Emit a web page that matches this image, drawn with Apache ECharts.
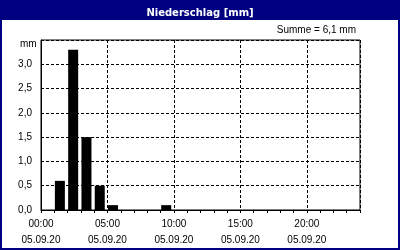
<!DOCTYPE html>
<html><head><meta charset="utf-8">
<script src="https://cdn.jsdelivr.net/npm/echarts@6/dist/echarts.min.js"></script>
<style>html,body{margin:0;padding:0;background:#fff}#c{width:400px;height:250px}</style>
</head><body><div id="c"></div>
<script>
// Data
const hourStarts = [1, 2, 3, 4, 5, 9];           // hour interval start (h .. h+1)
const precipMm   = [0.6, 3.3, 1.5, 0.5, 0.1, 0.1];
const xTickHours = [0, 5, 10, 15, 20];
const xTickTimes = ['00:00', '05:00', '10:00', '15:00', '20:00'];
const xTickDate  = '05.09.20';
const yTicks     = [0, 0.5, 1.0, 1.5, 2.0, 2.5, 3.0];
const titleText  = 'Niederschlag [mm]';
const sumText    = 'Summe = 6,1 mm';
const unitText   = 'mm';

const FONT = 'Liberation Sans';
const chart = echarts.init(document.getElementById('c'), null, {renderer: 'canvas'});
const barData = hourStarts.map((h, i) => [h + 0.42, precipMm[i]]);

chart.setOption({
  animation: false,
  backgroundColor: '#ffffff',
  textStyle: {fontFamily: FONT},
  graphic: [
    {type: 'rect', shape: {x: 0, y: 0, width: 400, height: 20}, style: {fill: '#000080'}, z: 0},
    {type: 'rect', shape: {x: 1, y: 1, width: 398, height: 248}, style: {fill: null, stroke: '#000080', lineWidth: 2}, z: 0},
    {type: 'text', left: 20, top: 39, style: {text: unitText, fill: '#000', font: '10px ' + FONT}},
    {type: 'text', right: 44, top: 25, style: {text: sumText, fill: '#000', font: '10px ' + FONT}}
  ],
  title: {
    text: titleText, left: 'center', top: 3,
    textStyle: {color: '#fff', fontSize: 10, fontWeight: 'bold', fontFamily: 'DejaVu Sans'}
  },
  grid: {left: 41, top: 40, width: 319, height: 170, show: true, borderColor: '#000', borderWidth: 1, backgroundColor: 'transparent'},
  xAxis: [
    {
      type: 'value', min: 0, max: 24, interval: 1, position: 'bottom',
      axisLine: {show: true, lineStyle: {color: '#000', width: 1}},
      axisTick: {show: true, length: 3, lineStyle: {color: '#000'}},
      axisLabel: {show: false}, splitLine: {show: false}
    },
    {
      type: 'value', min: 0, max: 24, interval: 5, position: 'bottom',
      axisLine: {show: false}, axisTick: {show: false},
      axisLabel: {
        show: true, color: '#000', fontSize: 10, fontFamily: FONT, lineHeight: 16, margin: 6,
        formatter: v => { const i = xTickHours.indexOf(v); return i < 0 ? '' : xTickTimes[i] + '\n' + xTickDate; }
      },
      splitLine: {show: true, lineStyle: {color: '#000', type: [3, 2], width: 1}}
    }
  ],
  yAxis: {
    type: 'value', min: 0, max: 3.5, interval: 0.5,
    axisLine: {show: true, lineStyle: {color: '#000'}},
    axisTick: {show: false},
    axisLabel: {
      color: '#000', fontSize: 10, fontFamily: FONT, margin: 9,
      formatter: v => yTicks.some(t => Math.abs(t - v) < 1e-9) ? v.toFixed(1).replace('.', ',') : ''
    },
    splitLine: {show: true, lineStyle: {color: '#000', type: [3, 2], width: 1}}
  },
  series: [{
    type: 'bar', xAxisIndex: 0, data: barData, barWidth: 10,
    itemStyle: {color: '#000'}, z: 3
  }]
});
</script></body></html>
